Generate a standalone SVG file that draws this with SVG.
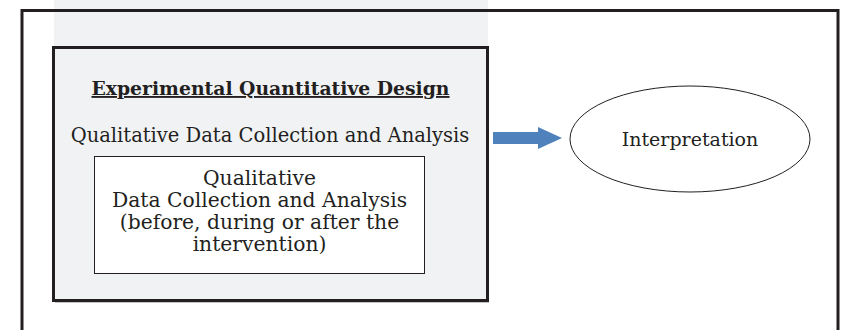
<svg xmlns="http://www.w3.org/2000/svg" width="843" height="330" viewBox="0 0 843 330">
<defs>
<style>
.t{font-family:"DejaVu Serif","Liberation Serif",serif;fill:#231f20;text-anchor:middle}
.frame{fill:none;stroke:#231f20;stroke-width:3}
.bx{font-size:20.3px}
</style>
</defs>
<rect width="843" height="330" fill="#ffffff"/>
<rect x="54" y="0" width="434" height="60" fill="#f1f2f4"/>
<rect x="22" y="10.5" width="816" height="330" class="frame"/>
<g id="design">
<rect x="55" y="49" width="434" height="254" fill="#8a8a8a" opacity="0.5"/>
<rect x="53.5" y="47.5" width="434" height="253" fill="#f1f2f4" stroke="#231f20" stroke-width="3"/>
<text class="t" x="270.5" y="95" font-size="18.8" font-weight="bold" text-decoration="underline">Experimental Quantitative Design</text>
<text class="t" x="270" y="142" font-size="19.5">Qualitative Data Collection and Analysis</text>
</g>
<g id="qual">
<rect x="94.5" y="156.5" width="330" height="117" fill="#ffffff" stroke="#231f20" stroke-width="1"/>
<text class="t bx" x="259.5" y="185">Qualitative</text>
<text class="t bx" x="259.5" y="207">Data Collection and Analysis</text>
<text class="t bx" x="259.5" y="229">(before, during or after the</text>
<text class="t bx" x="259.5" y="251">intervention)</text>
</g>
<g id="interp">
<ellipse cx="690" cy="139" rx="120" ry="53" fill="#ffffff" stroke="#231f20" stroke-width="1"/>
<text class="t" x="690" y="145.5" font-size="19">Interpretation</text>
</g>
<g id="connectors">
<polygon points="493,132 538,132 538,127 562,138 538,149 538,144 493,144" fill="#4f81bd"/>
</g>
</svg>
